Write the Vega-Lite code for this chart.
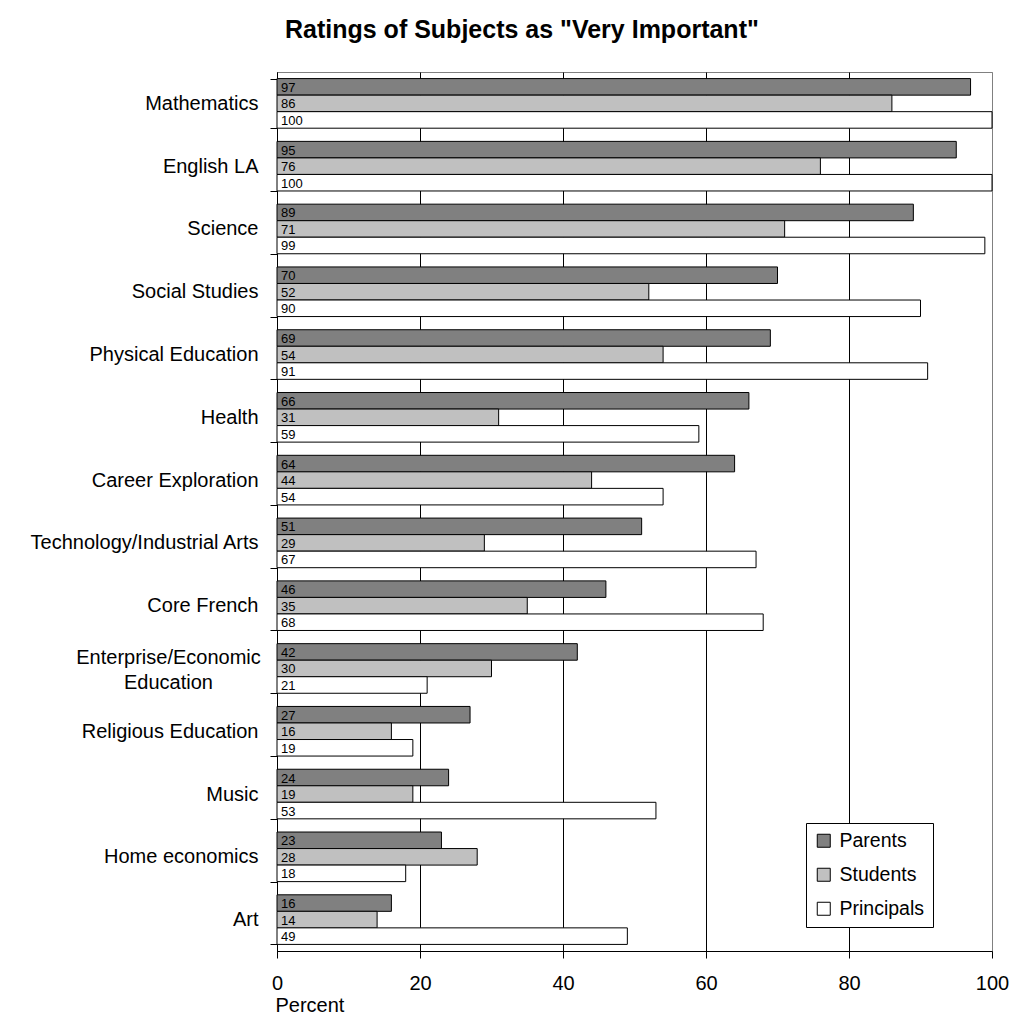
{
  "$schema": "https://vega.github.io/schema/vega-lite/v6.json",
  "autosize": {"type": "none"},
  "width": 715,
  "height": 879,
  "padding": {"left": 277, "top": 72, "right": 21, "bottom": 75},
  "background": "white",
  "title": {
    "text": "Ratings of Subjects as \"Very Important\"",
    "anchor": "start",
    "frame": "group",
    "dx": 8,
    "offset": -1,
    "baseline": "alphabetic",
    "font": "Liberation Sans",
    "fontSize": 25,
    "fontWeight": "bold",
    "color": "black"
  },
  "data": {
    "values": [
      {"subject": "Mathematics", "group": "Parents", "pct": 97},
      {"subject": "Mathematics", "group": "Students", "pct": 86},
      {"subject": "Mathematics", "group": "Principals", "pct": 100},
      {"subject": "English LA", "group": "Parents", "pct": 95},
      {"subject": "English LA", "group": "Students", "pct": 76},
      {"subject": "English LA", "group": "Principals", "pct": 100},
      {"subject": "Science", "group": "Parents", "pct": 89},
      {"subject": "Science", "group": "Students", "pct": 71},
      {"subject": "Science", "group": "Principals", "pct": 99},
      {"subject": "Social Studies", "group": "Parents", "pct": 70},
      {"subject": "Social Studies", "group": "Students", "pct": 52},
      {"subject": "Social Studies", "group": "Principals", "pct": 90},
      {"subject": "Physical Education", "group": "Parents", "pct": 69},
      {"subject": "Physical Education", "group": "Students", "pct": 54},
      {"subject": "Physical Education", "group": "Principals", "pct": 91},
      {"subject": "Health", "group": "Parents", "pct": 66},
      {"subject": "Health", "group": "Students", "pct": 31},
      {"subject": "Health", "group": "Principals", "pct": 59},
      {"subject": "Career Exploration", "group": "Parents", "pct": 64},
      {"subject": "Career Exploration", "group": "Students", "pct": 44},
      {"subject": "Career Exploration", "group": "Principals", "pct": 54},
      {"subject": "Technology/Industrial Arts", "group": "Parents", "pct": 51},
      {"subject": "Technology/Industrial Arts", "group": "Students", "pct": 29},
      {"subject": "Technology/Industrial Arts", "group": "Principals", "pct": 67},
      {"subject": "Core French", "group": "Parents", "pct": 46},
      {"subject": "Core French", "group": "Students", "pct": 35},
      {"subject": "Core French", "group": "Principals", "pct": 68},
      {"subject": "Enterprise/Economic Education", "group": "Parents", "pct": 42},
      {"subject": "Enterprise/Economic Education", "group": "Students", "pct": 30},
      {"subject": "Enterprise/Economic Education", "group": "Principals", "pct": 21},
      {"subject": "Religious Education", "group": "Parents", "pct": 27},
      {"subject": "Religious Education", "group": "Students", "pct": 16},
      {"subject": "Religious Education", "group": "Principals", "pct": 19},
      {"subject": "Music", "group": "Parents", "pct": 24},
      {"subject": "Music", "group": "Students", "pct": 19},
      {"subject": "Music", "group": "Principals", "pct": 53},
      {"subject": "Home economics", "group": "Parents", "pct": 23},
      {"subject": "Home economics", "group": "Students", "pct": 28},
      {"subject": "Home economics", "group": "Principals", "pct": 18},
      {"subject": "Art", "group": "Parents", "pct": 16},
      {"subject": "Art", "group": "Students", "pct": 14},
      {"subject": "Art", "group": "Principals", "pct": 49}
    ]
  },
  "encoding": {
    "y": {
      "field": "subject",
      "type": "nominal",
      "sort": null,
      "scale": {"paddingInner": 0.21, "paddingOuter": 0.105},
      "axis": {
        "title": null,
        "labelFont": "Liberation Sans",
        "labelFontSize": 20,
        "labelColor": "black",
        "labelLimit": 320,
        "labelLineHeight": 25,
        "labelBaseline": "middle",
        "labelExpr": "datum.value == 'Enterprise/Economic Education' ? ['Enterprise/Economic', 'Education'] : datum.value",
        "labelAlign": {"condition": {"test": "datum.value == 'Enterprise/Economic Education'", "value": "center"}, "value": "right"},
        "labelPadding": {"condition": {"test": "datum.value == 'Enterprise/Economic Education'", "value": 102}, "value": 12},
        "labelOffset": {"condition": {"test": "datum.value == 'Enterprise/Economic Education'", "value": -11}, "value": 0},
        "tickSize": 7,
        "tickBand": "extent",
        "tickColor": "black",
        "domainColor": "black"
      }
    },
    "yOffset": {
      "field": "group",
      "type": "nominal",
      "sort": ["Parents", "Students", "Principals"],
      "scale": {"paddingInner": 0, "paddingOuter": 0}
    }
  },
  "layer": [
    {
      "mark": {"type": "bar", "stroke": "black", "strokeWidth": 1},
      "encoding": {
        "x": {
          "field": "pct",
          "type": "quantitative",
          "scale": {"domain": [0, 100], "nice": false},
          "axis": {
            "title": "Percent",
            "values": [0, 20, 40, 60, 80, 100],
            "labelFont": "Liberation Sans",
            "labelFontSize": 20,
            "labelColor": "black",
            "labelFlush": false,
            "labelBaseline": "alphabetic",
            "labelPadding": 31,
            "tickSize": 7,
            "tickColor": "black",
            "domainColor": "black",
            "gridColor": {"condition": {"test": "datum.value === 100", "value": "#808080"}, "value": "black"},
            "gridOpacity": 1,
            "titleFont": "Liberation Sans",
            "titleFontSize": 20,
            "titleFontWeight": "normal",
            "titleColor": "black",
            "titleAlign": "left",
            "titleAnchor": "start",
            "titleBaseline": "alphabetic",
            "titleX": -2,
            "titleY": 60
          }
        },
        "color": {
          "field": "group",
          "type": "nominal",
          "scale": {
            "domain": ["Parents", "Students", "Principals"],
            "range": ["#808080", "#c0c0c0", "#ffffff"]
          },
          "legend": {
            "title": null,
            "orient": "none",
            "legendX": 529,
            "legendY": 751,
            "strokeColor": "black",
            "fillColor": "white",
            "padding": 8,
            "symbolType": "square",
            "symbolSize": 169,
            "symbolStrokeColor": "black",
            "symbolStrokeWidth": 1,
            "symbolOpacity": 1,
            "labelFont": "Liberation Sans",
            "labelFontSize": 19.5,
            "labelColor": "black",
            "labelOffset": 6,
            "rowPadding": 13
          }
        }
      }
    },
    {
      "mark": {
        "type": "text",
        "align": "left",
        "baseline": "middle",
        "dx": 4,
        "dy": 1,
        "font": "Liberation Sans",
        "fontSize": 13,
        "color": "black"
      },
      "encoding": {
        "x": {"datum": 0, "type": "quantitative"},
        "text": {"field": "pct", "type": "quantitative"}
      }
    }
  ],
  "config": {
    "font": "Liberation Sans",
    "view": {"stroke": "#808080", "strokeWidth": 1}
  }
}
